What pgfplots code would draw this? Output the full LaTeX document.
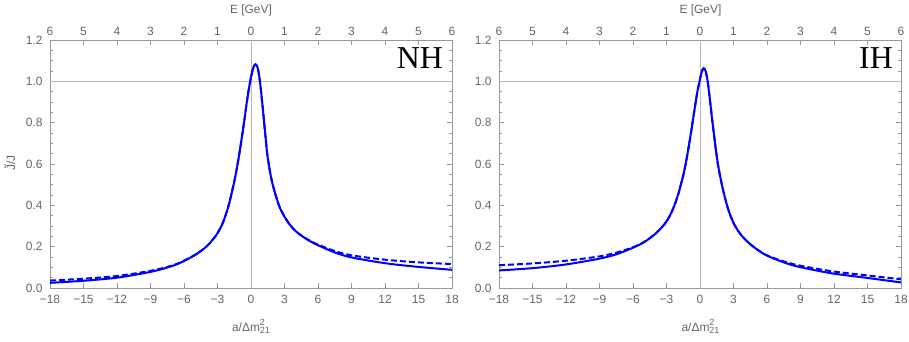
\documentclass[border=0pt]{standalone}
\usepackage{fontspec}
\setmainfont{Liberation Sans}
\newfontfamily\hfont{Liberation Serif}
\usepackage{pgfplots}
\usepackage{pgfplotstable}
\pgfplotsset{compat=1.18}
\definecolor{txtgray}{gray}{0.4}
\definecolor{framegray}{gray}{0.6}
\definecolor{gridgray}{gray}{0.72}

\pgfplotstableread{
a y
-18 0.025
-15 0.035
-12 0.050
-9 0.078
-7.5 0.099
-6.4 0.120
-5 0.160
-4 0.200
-3.4 0.236
-3 0.265
-2.5 0.318
-2 0.400
-1.5 0.515
-1.2 0.600
-0.9 0.700
-0.6 0.810
-0.4 0.890
-0.2 0.960
0 1.020
0.2 1.065
0.4 1.082
0.6 1.065
0.8 1.000
1.0 0.900
1.25 0.760
1.5 0.630
1.9 0.510
2.5 0.400
3.0 0.345
3.5 0.305
4.0 0.275
4.6 0.250
5.3 0.226
6 0.207
7.5 0.172
9 0.148
12 0.120
15 0.102
18 0.088
}\nhsolid

\pgfplotstableread{
a y
-18 0.036
-15 0.045
-12 0.058
-9 0.083
-7.5 0.102
-6.4 0.122
-5 0.161
-4 0.200
-3.4 0.236
-3 0.265
-2.5 0.318
-2 0.400
-1.5 0.515
-1.2 0.600
-0.9 0.700
-0.6 0.810
-0.4 0.890
-0.2 0.960
0 1.020
0.2 1.065
0.4 1.082
0.6 1.065
0.8 1.000
1.0 0.900
1.25 0.760
1.5 0.630
1.9 0.510
2.5 0.400
3.0 0.345
3.5 0.305
4.0 0.275
4.6 0.251
5.3 0.228
6 0.210
7.5 0.179
9 0.158
12 0.137
15 0.124
18 0.116
}\nhdashed

\pgfplotstableread{
a y
-18 0.085
-15 0.096
-12 0.114
-9 0.142
-7.5 0.163
-6 0.195
-5 0.222
-4 0.262
-3.4 0.295
-3 0.322
-2.5 0.372
-2 0.445
-1.5 0.545
-1.2 0.625
-0.9 0.720
-0.6 0.825
-0.4 0.895
-0.2 0.960
0 1.010
0.15 1.045
0.32 1.063
0.5 1.050
0.7 0.995
0.9 0.905
1.1 0.810
1.35 0.700
1.6 0.600
2.0 0.490
2.5 0.385
3.0 0.315
3.6 0.262
4.5 0.212
5.8 0.162
7.3 0.128
8.8 0.103
11.8 0.071
14.8 0.050
18 0.027
}\ihsolid

\pgfplotstableread{
a y
-18 0.110
-15 0.119
-12 0.132
-9 0.153
-7.5 0.171
-6 0.197
-5 0.223
-4 0.262
-3.4 0.295
-3 0.322
-2.5 0.372
-2 0.445
-1.5 0.545
-1.2 0.625
-0.9 0.720
-0.6 0.825
-0.4 0.895
-0.2 0.960
0 1.010
0.15 1.045
0.32 1.063
0.5 1.050
0.7 0.995
0.9 0.905
1.1 0.810
1.35 0.700
1.6 0.600
2.0 0.490
2.5 0.385
3.0 0.315
3.6 0.262
4.5 0.212
5.8 0.163
7.3 0.132
8.8 0.110
11.8 0.081
14.8 0.062
18 0.042
}\ihdashed

\pgfplotsset{
  panel/.style={
    scale only axis, width=402bp, height=248bp,
    xmin=-18, xmax=18, ymin=0, ymax=1.2,
    xtick={-18,-15,-12,-9,-6,-3,0,3,6,9,12,15,18},
    xticklabels={−18,−15,−12,−9,−6,−3,0,3,6,9,12,15,18},
    ytick={0,0.2,0.4,0.6,0.8,1.0,1.2},
    yticklabels={0.0,0.2,0.4,0.6,0.8,1.0,1.2},
    minor y tick num=3,
    axis line style={framegray, line width=0.6bp},
    tick style={framegray, line width=0.5bp},
    major tick length=5bp, minor tick length=3bp,
    tick label style={txtgray, font=\fontsize{12}{14}\selectfont},
    yticklabel style={xshift=-4bp},
    xticklabel style={yshift=-4bp},
  },
  topax/.style={
    scale only axis, width=402bp, height=248bp,
    xmin=-18, xmax=18, ymin=0, ymax=1.2,
    axis x line*=top, axis y line=none,
    xtick={-18,-15,-12,-9,-6,-3,0,3,6,9,12,15,18},
    xticklabels={6,5,4,3,2,1,0,1,2,3,4,5,6},
    major tick length=0pt,
    axis line style={draw=none},
    tick label style={txtgray, font=\fontsize{12}{14}\selectfont},
    xticklabel style={yshift=1bp},
  },
  solidc/.style={blue, line width=2bp, smooth, tension=0.5},
  dashc/.style={blue, line width=2bp, smooth, tension=0.5, dash pattern=on 6bp off 3bp},
}

\begin{document}
\begin{tikzpicture}
% left panel
\begin{axis}[panel, at={(0,0)}]
  \draw[gridgray, line width=0.6bp] (axis cs:0,0) -- (axis cs:0,1.2);
  \draw[gridgray, line width=0.6bp] (axis cs:-18,1) -- (axis cs:18,1);
  \addplot[dashc] table[x=a,y=y] {\nhdashed};
  \addplot[solidc] table[x=a,y=y] {\nhsolid};
\end{axis}
\begin{axis}[topax, at={(0,0)}]
\end{axis}
% right panel
\begin{axis}[panel, at={(449bp,0)}]
  \draw[gridgray, line width=0.6bp] (axis cs:0,0) -- (axis cs:0,1.2);
  \draw[gridgray, line width=0.6bp] (axis cs:-18,1) -- (axis cs:18,1);
  \addplot[dashc] table[x=a,y=y] {\ihdashed};
  \addplot[solidc] table[x=a,y=y] {\ihsolid};
\end{axis}
\begin{axis}[topax, at={(449bp,0)}]
\end{axis}
% labels
\tikzset{lab/.style={txtgray, font=\fontsize{12}{14}\selectfont, inner sep=0pt}}
\node[lab, anchor=base] at (201bp,-43bp) {a/Δm\rlap{\raisebox{0.85ex}{\fontsize{9}{10}\selectfont 2}}\raisebox{-0.45ex}{\fontsize{9}{10}\selectfont 21}};
\node[lab, anchor=base] at (650.5bp,-43bp) {a/Δm\rlap{\raisebox{0.85ex}{\fontsize{9}{10}\selectfont 2}}\raisebox{-0.45ex}{\fontsize{9}{10}\selectfont 21}};
\node[lab, anchor=base] at (201bp,274.5bp) {E [GeV]};
\node[lab, anchor=base] at (650.5bp,274.5bp) {E [GeV]};
\node[lab, rotate=90, anchor=center] at (-40bp,125bp) {\~{J}/J};
\node[anchor=base east, inner sep=0pt, font=\hfont\fontsize{32}{34}\selectfont] at (393bp,219bp) {NH};
\node[anchor=base east, inner sep=0pt, font=\hfont\fontsize{32}{34}\selectfont] at (843bp,219bp) {IH};
\pgfresetboundingbox
\path[use as bounding box] (-50bp,-54bp) rectangle (859bp,288bp);
\end{tikzpicture}
\end{document}
